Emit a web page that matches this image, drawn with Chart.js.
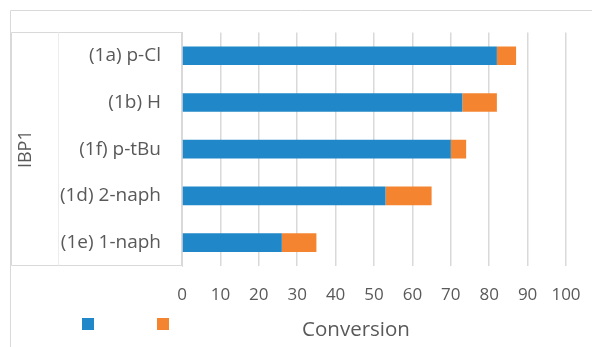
<!DOCTYPE html>
<html>
<head>
<meta charset="utf-8">
<script src="https://cdn.jsdelivr.net/npm/chart.js@4/dist/chart.umd.min.js"></script>
<style>
  html, body { margin: 0; padding: 0; background: #ffffff; }
  #wrap { width: 592px; height: 347px; }
</style>
</head>
<body>
<div id="wrap"><canvas id="c" width="592" height="347"></canvas></div>
<script>
// Substrates, top to bottom
const categories = ['(1a) p-Cl', '(1b) H', '(1f) p-tBu', '(1d) 2-naph', '(1e) 1-naph'];
// Conversion split into two stacked parts (%)
const seriesA = [82, 73, 70, 53, 26];
const seriesB = [5, 9, 4, 12, 9];
const xTicks = [0, 10, 20, 30, 40, 50, 60, 70, 80, 90, 100];
const groupLabel = 'IBP1';
const axisTitle = 'Conversion';

const TEXT = '#595959';
const LINE = '#d9d9d9';
const FONT = '"Open Sans", "DejaVu Sans", sans-serif';

// Frame around the chart, the boxed two-level category axis,
// the value-axis title and the legend swatches
const framePlugin = {
  id: 'frame',
  beforeDraw(chart) {
    const { ctx, chartArea } = chart;
    const y = chart.scales.y;
    ctx.save();
    ctx.strokeStyle = LINE;
    ctx.lineWidth = 1;
    // outer frame
    ctx.beginPath();
    ctx.moveTo(10.5, chart.height);
    ctx.lineTo(10.5, 10.5);
    ctx.lineTo(chart.width, 10.5);
    ctx.stroke();
    // category box
    const l = Math.round(y.left) + 0.5;
    const r = Math.round(chartArea.left) + 0.5;
    const t = Math.round(chartArea.top) + 0.5;
    const b = Math.round(chartArea.bottom) - 0.5;
    ctx.beginPath();
    ctx.moveTo(r, t); ctx.lineTo(l, t); ctx.lineTo(l, b); ctx.lineTo(r, b);
    ctx.stroke();
    // separator between group label and category labels
    ctx.strokeStyle = '#ececec';
    ctx.beginPath();
    ctx.moveTo(l + 47, t); ctx.lineTo(l + 47, b);
    ctx.stroke();
    ctx.restore();
  },
  afterDraw(chart) {
    const { ctx, chartArea } = chart;
    ctx.save();
    // value-axis title, sitting a little left of the plot centre
    ctx.fillStyle = TEXT;
    ctx.font = '20.5px ' + FONT;
    ctx.textAlign = 'center';
    ctx.textBaseline = 'middle';
    ctx.fillText(axisTitle, (chartArea.left + chartArea.right) / 2 - 18, 330);
    // legend swatches (no text)
    const xs = [82, 157];
    chart.data.datasets.forEach((ds, i) => {
      ctx.fillStyle = ds.backgroundColor;
      ctx.fillRect(xs[i], 318, 12, 12);
    });
    ctx.restore();
  }
};

new Chart(document.getElementById('c'), {
  type: 'bar',
  data: {
    labels: categories,
    datasets: [
      { label: '', data: seriesA, backgroundColor: '#2088c9', borderWidth: 0 },
      { label: '', data: seriesB, backgroundColor: '#f4842f', borderWidth: 0 }
    ]
  },
  options: {
    indexAxis: 'y',
    responsive: false,
    animation: false,
    devicePixelRatio: 1,
    categoryPercentage: 1,
    barPercentage: 0.4,
    layout: { padding: { top: 31, left: 11, right: 26, bottom: 6 } },
    plugins: {
      legend: { display: false },
      tooltip: { enabled: false }
    },
    scales: {
      x: {
        stacked: true,
        min: 0,
        max: 100,
        afterBuildTicks(scale) { scale.ticks = xTicks.map(v => ({ value: v })); },
        afterFit(scale) {
          scale.height = 75;
          scale.paddingLeft = 0;
          scale.paddingRight = 0;
        },
        grid: { color: LINE, lineWidth: 1.5, drawTicks: false },
        border: { display: false },
        ticks: { color: TEXT, font: { family: FONT, size: 17 }, padding: 19, maxRotation: 0 },
        title: { display: false }
      },
      y: {
        stacked: true,
        afterFit(scale) { scale.width = 171; },
        grid: { display: false, drawTicks: false },
        border: { display: true, color: LINE, width: 1 },
        ticks: { color: TEXT, font: { family: FONT, size: 19 }, padding: 21 },
        title: { display: true, text: groupLabel, color: TEXT, font: { family: FONT, size: 18 }, padding: { top: 4, bottom: 0 } }
      }
    }
  },
  plugins: [framePlugin]
});
</script>
</body>
</html>
